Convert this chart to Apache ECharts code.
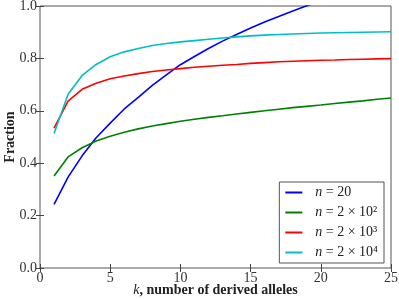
<!DOCTYPE html>
<html>
<head>
<meta charset="utf-8">
<script src="https://cdn.jsdelivr.net/npm/echarts@6/dist/echarts.min.js"></script>
<style>html,body{margin:0;padding:0;background:#fff}#c{width:399px;height:299px}</style>
</head>
<body>
<div id="c"></div>
<script>
var kValues = [1,2,3,4,5,6,7,8,9,10,11,12,13,14,15,16,17,18,19,20,21,22,23,24,25];
var seriesNames = ['n = 20', 'n = 2 × 10²', 'n = 2 × 10³', 'n = 2 × 10⁴'];
var legendLabels = ['{i|n} = 20', '{i|n} = 2 × 10²', '{i|n} = 2 × 10³', '{i|n} = 2 × 10⁴'];
var n20 = [0.243,0.347,0.428,0.497,0.553,0.607,0.651,0.697,0.737,0.776,0.807,0.838,0.866,0.891,0.916,0.939,0.960,0.981,1.001,1.02,1.04,1.06,1.08,1.10,1.12];
var n200 = [0.351,0.424,0.459,0.485,0.503,0.518,0.531,0.542,0.551,0.560,0.568,0.575,0.581,0.588,0.594,0.600,0.606,0.612,0.617,0.622,0.628,0.633,0.638,0.644,0.649];
var n2000 = [0.534,0.637,0.682,0.705,0.722,0.733,0.742,0.750,0.756,0.761,0.766,0.770,0.774,0.777,0.781,0.784,0.787,0.789,0.791,0.793,0.794,0.796,0.797,0.798,0.799];
var n20000 = [0.513,0.663,0.735,0.777,0.806,0.825,0.838,0.849,0.857,0.863,0.868,0.873,0.878,0.882,0.886,0.889,0.891,0.893,0.895,0.897,0.898,0.899,0.900,0.901,0.902];
var xTicks = [0,5,10,15,20,25];
var yTicks = ['0.0','0.2','0.4','0.6','0.8','1.0'];

var FONT = 'Liberation Serif';
var colors = ['#0000ff','#008000','#ff0000','#00bfbf'];
var allData = [n20, n200, n2000, n20000];

function pairs(arr){ return kValues.map(function(k,i){ return [k, arr[i]]; }); }

var chart = echarts.init(document.getElementById('c'), null, {renderer:'canvas'});
var tickStyle = {show:true, inside:true, length:4, lineStyle:{color:'#444', width:1}};
var option = {
  animation:false,
  backgroundColor:'#fff',
  grid:{left:40, top:6, right:8, bottom:31, containLabel:false, outerBoundsMode:'none',
    show:true, borderColor:'#555', borderWidth:1, backgroundColor:'transparent'},
  xAxis:[{
    type:'value', min:0, max:25, interval:5, position:'bottom',
    axisLine:{show:false}, splitLine:{show:false},
    axisTick:tickStyle,
    axisLabel:{color:'#333', fontFamily:FONT, fontSize:14, margin:3,
      formatter:function(v){ return xTicks.indexOf(v)>=0 ? String(v) : ''; }},
    name:'{k|k}, number of derived alleles', nameLocation:'middle', nameGap:15, nameMoveOverlap:false,
    nameTextStyle:{fontFamily:FONT, fontSize:14, fontWeight:'bold', color:'#222',
      rich:{k:{fontFamily:FONT, fontSize:14, fontStyle:'italic', fontWeight:'normal', color:'#222'}}}
  },{
    type:'value', min:0, max:25, interval:5, position:'top',
    axisLine:{show:false}, splitLine:{show:false}, axisTick:tickStyle, axisLabel:{show:false}
  }],
  yAxis:[{
    type:'value', min:0, max:1, interval:0.2, position:'left',
    axisLine:{show:false}, splitLine:{show:false},
    axisTick:tickStyle,
    axisLabel:{color:'#333', fontFamily:FONT, fontSize:14, margin:3,
      formatter:function(v){ return yTicks[Math.round(v/0.2)]; }},
    name:'Fraction', nameLocation:'middle', nameGap:23, nameRotate:90, nameMoveOverlap:false,
    nameTextStyle:{fontFamily:FONT, fontSize:14, fontWeight:'bold', color:'#222'}
  },{
    type:'value', min:0, max:1, interval:0.2, position:'right',
    axisLine:{show:false}, splitLine:{show:false}, axisTick:tickStyle, axisLabel:{show:false}
  }],
  legend:{
    orient:'vertical', right:15, bottom:36,
    backgroundColor:'#fff', borderColor:'#555', borderWidth:1, borderRadius:0,
    padding:[3,6,3,6], itemGap:5,
    icon:'rect', itemWidth:17, itemHeight:2,
    data:seriesNames,
    formatter:function(name){ return legendLabels[seriesNames.indexOf(name)]; },
    textStyle:{fontFamily:FONT, fontSize:14, color:'#222', padding:[0,0,0,8], lineHeight:15,
      rich:{i:{fontFamily:FONT, fontSize:14, fontStyle:'italic', color:'#222'}}}
  },
  series: allData.map(function(d,i){
    return {name:seriesNames[i], type:'line', data:pairs(d), symbol:'none', clip:true,
      xAxisIndex:0, yAxisIndex:0, color:colors[i], lineStyle:{color:colors[i], width:1.6}};
  })
};
chart.setOption(option);
</script>
</body>
</html>
